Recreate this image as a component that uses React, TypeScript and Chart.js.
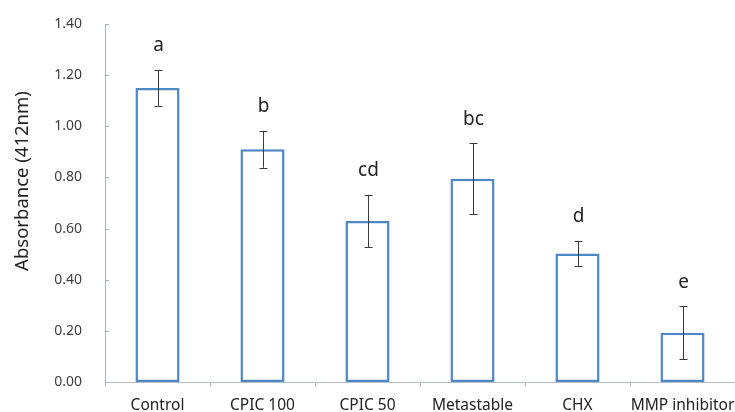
import React, { useEffect, useRef } from "react";
import { Chart, registerables } from "chart.js";

Chart.register(...registerables);

const categories = ["Control", "CPIC 100", "CPIC 50", "Metastable", "CHX", "MMP inhibitor"];
const means = [1.15, 0.91, 0.63, 0.795, 0.503, 0.193];
const errors = [0.07, 0.072, 0.102, 0.139, 0.049, 0.103];
const letters = ["a", "b", "cd", "bc", "d", "e"];
const yTicks = [0, 0.2, 0.4, 0.6, 0.8, 1.0, 1.2, 1.4];
const yTitle = "Absorbance (412nm)";

const FONT = "'Noto Sans', 'Open Sans', sans-serif";

const overlayPlugin = {
  id: "overlay",
  afterDatasetsDraw(chart: any) {
    const ctx = chart.ctx;
    const x = chart.scales.x;
    const y = chart.scales.y;
    ctx.save();
    ctx.strokeStyle = "#a8b3c0";
    ctx.lineWidth = 1;
    yTicks.forEach((v) => {
      const py = Math.round(y.getPixelForValue(v)) + 0.5;
      ctx.beginPath();
      ctx.moveTo(x.left, py);
      ctx.lineTo(x.left + 4, py);
      ctx.stroke();
    });
    ctx.strokeStyle = "#3a3a3a";
    ctx.lineWidth = 1;
    means.forEach((m, i) => {
      const px = Math.round(x.getPixelForValue(i)) + 0.5;
      const top = y.getPixelForValue(m + errors[i]);
      const bot = y.getPixelForValue(m - errors[i]);
      ctx.beginPath();
      ctx.moveTo(px, top);
      ctx.lineTo(px, bot);
      ctx.moveTo(px - 4, Math.round(top) + 0.5);
      ctx.lineTo(px + 4, Math.round(top) + 0.5);
      ctx.moveTo(px - 4, Math.round(bot) + 0.5);
      ctx.lineTo(px + 4, Math.round(bot) + 0.5);
      ctx.stroke();
      ctx.fillStyle = "#222222";
      ctx.font = `19px ${FONT}`;
      ctx.textAlign = "center";
      ctx.textBaseline = "middle";
      ctx.fillText(letters[i], px, top - 24);
    });
    ctx.translate(23, 181);
    ctx.rotate(-Math.PI / 2);
    ctx.fillStyle = "#222222";
    ctx.font = `18.5px ${FONT}`;
    ctx.textAlign = "center";
    ctx.textBaseline = "middle";
    ctx.fillText(yTitle, 0, 0);
    ctx.restore();
  },
};

export default function App() {
  const ref = useRef<HTMLCanvasElement | null>(null);
  useEffect(() => {
    document.body.style.margin = "0";
    const chart = new Chart(ref.current as HTMLCanvasElement, {
      type: "bar",
      data: {
        labels: categories,
        datasets: [
          {
            data: means,
            backgroundColor: "#ffffff",
            borderColor: "#4f86c6",
            borderWidth: 2.5,
            categoryPercentage: 1,
            barPercentage: 0.42,
            borderSkipped: false,
          },
        ],
      },
      options: {
        responsive: false,
        animation: false,
        devicePixelRatio: 1,
        layout: { padding: { top: 24, right: 0, left: 0, bottom: 0 } },
        plugins: { legend: { display: false }, tooltip: { enabled: false } },
        scales: {
          x: {
            grid: {
              offset: true,
              drawOnChartArea: false,
              drawTicks: true,
              tickLength: 5,
              color: "#b8bec6",
            },
            border: { display: true, color: "#b8bec6", width: 1 },
            ticks: {
              color: "#222222",
              font: { family: FONT, size: 15.5 },
              padding: 9,
              maxRotation: 0,
              autoSkip: false,
            },
            afterFit: (s: any) => {
              s.height = 30;
              s.paddingLeft = 0;
              s.paddingRight = 0;
            },
          },
          y: {
            min: 0,
            max: 1.4,
            grid: { display: false, drawTicks: false },
            border: { display: true, color: "#a8b3c0", width: 1 },
            ticks: {
              stepSize: 0.2,
              color: "#404040",
              font: { family: FONT, size: 14 },
              padding: 23,
              callback: (v: any) => Number(v).toFixed(2),
            },
            afterFit: (s: any) => {
              s.width = 105;
              s.paddingTop = 0;
              s.paddingBottom = 0;
            },
          },
        },
      },
      plugins: [overlayPlugin],
    } as any);
    return () => chart.destroy();
  }, []);
  return <canvas ref={ref} width={735} height={412} style={{ display: "block" }} />;
}
